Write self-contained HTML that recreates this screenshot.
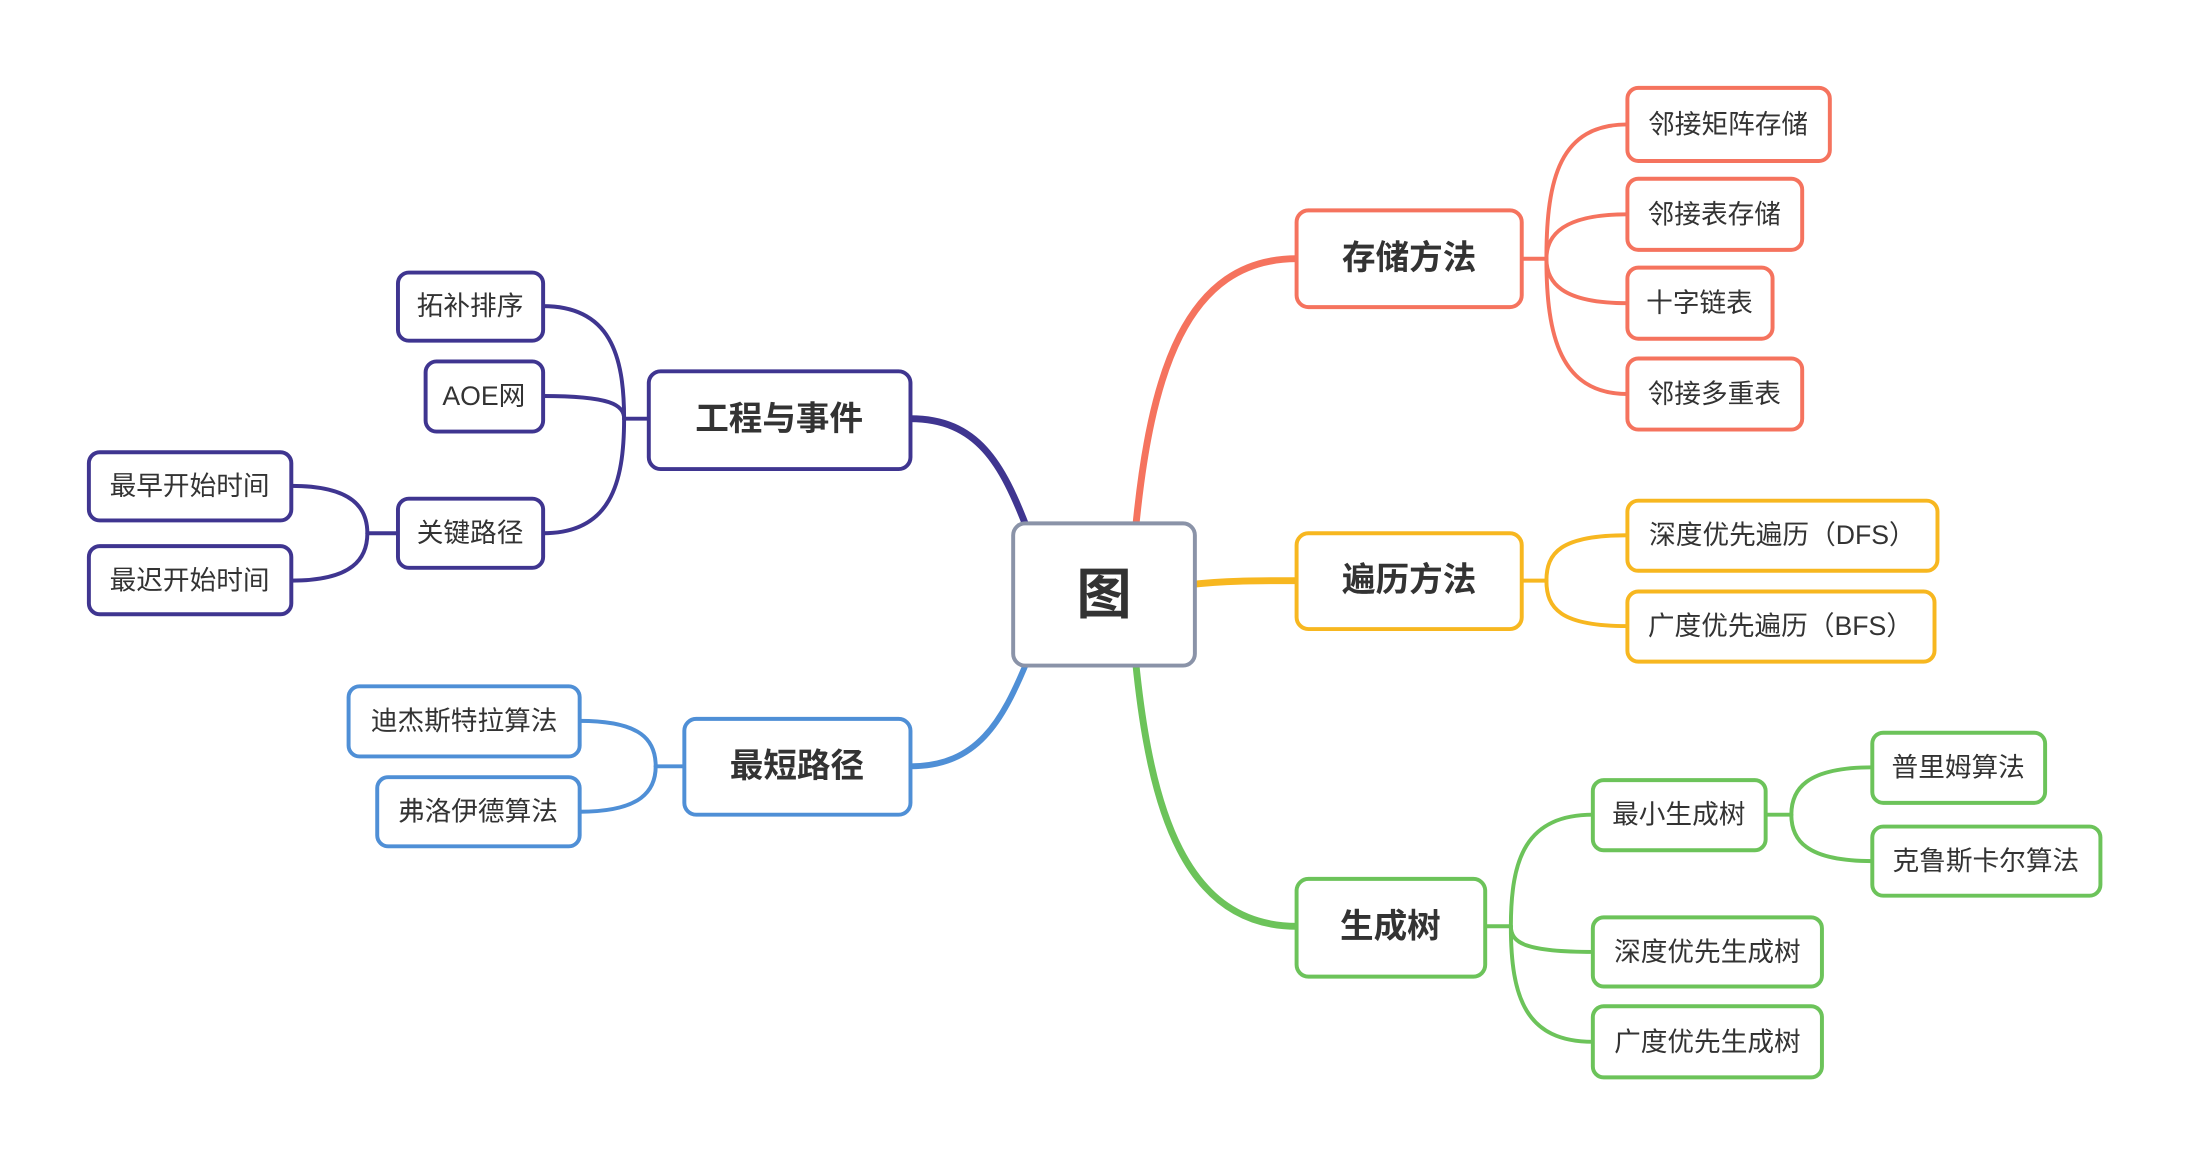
<!DOCTYPE html>
<html><head><meta charset="utf-8"><style>
html,body{margin:0;padding:0;background:#fff;}
svg{display:block;}
text{font-family:"Liberation Sans","Noto Sans CJK SC",sans-serif;fill:#333;dominant-baseline:central;text-anchor:middle;}
.s{font-size:27px;}
.m{font-size:34px;font-weight:bold;}
</style></head><body>
<svg width="2191" height="1165" viewBox="0 0 2191 1165" xmlns="http://www.w3.org/2000/svg">
<g transform="scale(0.9875)">
<g fill="none" stroke-linecap="round">
<path d="M1150,535 C1165,380 1200,262 1313,262" stroke="#f5735e" stroke-width="7"/>
<path d="M1205,592 C1240,588 1270,588 1313,588" stroke="#f7b720" stroke-width="7"/>
<path d="M1150,670 C1165,820 1200,938 1313,938" stroke="#6cc35a" stroke-width="7"/>
<path d="M1040,535 C1015,470 990,424 922,424" stroke="#3f3590" stroke-width="7"/>
<path d="M1040,670 C1015,730 990,776 922,776" stroke="#4f8fd6" stroke-width="6"/>
<g stroke="#f5735e" stroke-width="4">
<path d="M1541,262 H1566"/>
<path d="M1566,262 C1566,180 1580,126 1648,126"/>
<path d="M1566,262 C1566,240 1580,217 1648,217"/>
<path d="M1566,262 C1566,285 1580,307 1648,307"/>
<path d="M1566,262 C1566,340 1580,399 1648,399"/>
</g>
<g stroke="#f7b720" stroke-width="4">
<path d="M1541,588 H1566"/>
<path d="M1566,588 C1566,560 1580,542 1648,542"/>
<path d="M1566,588 C1566,616 1580,634 1648,634"/>
</g>
<g stroke="#6cc35a" stroke-width="4">
<path d="M1504,938 H1530"/>
<path d="M1530,938 C1530,870 1545,825 1613,825"/>
<path d="M1530,938 C1530,955 1545,964 1613,964"/>
<path d="M1530,938 C1530,1010 1545,1055 1613,1055"/>
<path d="M1788,825 H1814"/>
<path d="M1814,825 C1814,800 1828,777 1896,777"/>
<path d="M1814,825 C1814,850 1828,872 1896,872"/>
</g>
<g stroke="#3f3590" stroke-width="4">
<path d="M657,424 H632"/>
<path d="M632,424 C632,360 618,310 550,310"/>
<path d="M632,424 C632,410 618,401 550,401"/>
<path d="M632,424 C632,490 618,540 550,540"/>
<path d="M403,540 H372"/>
<path d="M372,540 C372,515 358,492 295,492"/>
<path d="M372,540 C372,565 358,588 295,588"/>
</g>
<g stroke="#4f8fd6" stroke-width="4">
<path d="M693,776 H664"/>
<path d="M664,776 C664,750 650,730 587,730"/>
<path d="M664,776 C664,800 650,822 587,822"/>
</g>
</g>
<g fill="#fff" stroke-width="4">
<rect x="1026" y="530" width="184" height="144" rx="12" stroke="#8a93a8"/>
<rect x="1313" y="213" width="228" height="98" rx="12" stroke="#f5735e"/>
<rect x="1313" y="540" width="228" height="97" rx="12" stroke="#f7b720"/>
<rect x="1313" y="890" width="191" height="99" rx="12" stroke="#6cc35a"/>
<rect x="657" y="376" width="265" height="99" rx="12" stroke="#3f3590"/>
<rect x="693" y="728" width="229" height="97" rx="12" stroke="#4f8fd6"/>
<g stroke="#f5735e">
<rect x="1648" y="89" width="205" height="74" rx="11"/>
<rect x="1648" y="181" width="177" height="72" rx="11"/>
<rect x="1648" y="271" width="147" height="72" rx="11"/>
<rect x="1648" y="363" width="177" height="72" rx="11"/>
</g>
<g stroke="#f7b720">
<rect x="1648" y="507" width="314" height="71" rx="11"/>
<rect x="1648" y="599" width="311" height="71" rx="11"/>
</g>
<g stroke="#6cc35a">
<rect x="1613" y="790" width="175" height="71" rx="11"/>
<rect x="1613" y="929" width="232" height="70" rx="11"/>
<rect x="1613" y="1019" width="232" height="72" rx="11"/>
<rect x="1896" y="742" width="175" height="71" rx="11"/>
<rect x="1896" y="837" width="231" height="70" rx="11"/>
</g>
<g stroke="#3f3590">
<rect x="403" y="276" width="147" height="69" rx="11"/>
<rect x="431" y="366" width="119" height="71" rx="11"/>
<rect x="403" y="505" width="147" height="70" rx="11"/>
<rect x="90" y="458" width="205" height="69" rx="11"/>
<rect x="90" y="553" width="205" height="69" rx="11"/>
</g>
<g stroke="#4f8fd6">
<rect x="353" y="695" width="234" height="71" rx="11"/>
<rect x="382" y="787" width="205" height="70" rx="11"/>
</g>
</g>
<text x="1118" y="602" style="font-size:56px;font-weight:bold;">图</text>
<text class="m" x="1427" y="262">存储方法</text>
<text class="m" x="1427" y="588">遍历方法</text>
<text class="m" x="1408" y="939">生成树</text>
<text class="m" x="789" y="425">工程与事件</text>
<text class="m" x="807" y="776">最短路径</text>
<text class="s" x="1750" y="126">邻接矩阵存储</text>
<text class="s" x="1736" y="217">邻接表存储</text>
<text class="s" x="1721" y="307">十字链表</text>
<text class="s" x="1736" y="399">邻接多重表</text>
<text class="s" x="1805" y="542">深度优先遍历（DFS）</text>
<text class="s" x="1803" y="634">广度优先遍历（BFS）</text>
<text class="s" x="1700" y="825">最小生成树</text>
<text class="s" x="1729" y="964">深度优先生成树</text>
<text class="s" x="1729" y="1055">广度优先生成树</text>
<text class="s" x="1983" y="777">普里姆算法</text>
<text class="s" x="2011" y="872">克鲁斯卡尔算法</text>
<text class="s" x="476" y="310">拓补排序</text>
<text class="s" x="490" y="401">AOE网</text>
<text class="s" x="476" y="540">关键路径</text>
<text class="s" x="192" y="492">最早开始时间</text>
<text class="s" x="192" y="588">最迟开始时间</text>
<text class="s" x="470" y="730">迪杰斯特拉算法</text>
<text class="s" x="484" y="822">弗洛伊德算法</text>
</g>
</svg>
</body></html>
